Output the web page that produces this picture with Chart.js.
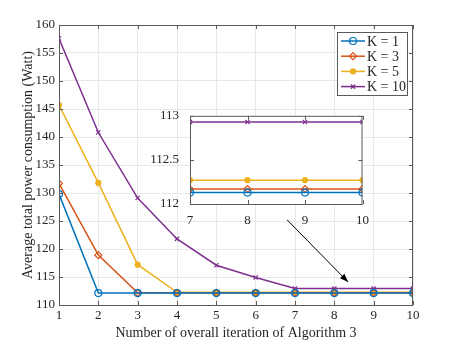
<!DOCTYPE html>
<html>
<head>
<meta charset="utf-8">
<script src="https://cdn.jsdelivr.net/npm/chart.js@4.4.0/dist/chart.umd.min.js"></script>
<style>
  body { margin: 0; background: #fff; }
  #wrap { position: relative; width: 457px; height: 343px; }
  #main { position: absolute; left: 0; top: 0; }
  #inset { position: absolute; left: 150px; top: 105px; }
</style>
</head>
<body>
<div id="wrap">
  <canvas id="main" width="457" height="343"></canvas>
  <canvas id="inset" width="220" height="128"></canvas>
</div>
<script>
var iterations = [1, 2, 3, 4, 5, 6, 7, 8, 9, 10];
var labels = ['K = 1', 'K = 3', 'K = 5', 'K = 10'];
var k1 = [129.8, 112.13, 112.13, 112.13, 112.13, 112.13, 112.13, 112.13, 112.13, 112.13];
var k3 = [131.7, 118.9, 112.17, 112.17, 112.17, 112.17, 112.17, 112.17, 112.17, 112.17];
var k5 = [145.7, 131.8, 117.2, 112.27, 112.27, 112.27, 112.27, 112.27, 112.27, 112.27];
var k10 = [157.6, 140.8, 129.1, 121.8, 117.1, 114.9, 112.93, 112.93, 112.93, 112.93];
var insetFrom = 7;
var colors = ['#0072BD', '#D95319', '#EDB120', '#7E2F8E'];
var styles = ['circle', 'rectRot', 'circle', 'crossRot'];
var radii = [3.5, 3.5, 2.5, 3];
var fills = ['rgba(0,0,0,0)', 'rgba(0,0,0,0)', '#EDB120', '#7E2F8E'];
var series = [k1, k3, k5, k10];

var FONT = 'Liberation Serif';
var INK = '#262626';

function makeSets(from) {
  return series.map(function(s, i) {
    var pts = [];
    for (var j = 0; j < iterations.length; j++) {
      if (iterations[j] >= from) pts.push({x: iterations[j], y: s[j]});
    }
    return {
      label: labels[i], data: pts,
      borderColor: colors[i], backgroundColor: fills[i],
      pointBorderColor: colors[i], pointBackgroundColor: fills[i],
      pointStyle: styles[i], pointRadius: radii[i], pointBorderWidth: 1.2,
      borderWidth: 1.5, tension: 0
    };
  });
}

// box + inward ticks like matlab
var boxPlugin = {
  id: 'box',
  afterDraw: function(chart) {
    var c = chart.ctx, a = chart.chartArea;
    c.save();
    c.strokeStyle = '#5a5a5a';
    c.lineWidth = 1;
    c.strokeRect(a.left + 0.5, a.top + 0.5, a.right - a.left - 1, a.bottom - a.top);
    var xs = chart.scales.x, ys = chart.scales.y;
    c.beginPath();
    xs.ticks.forEach(function(t) {
      var px = Math.round(xs.getPixelForValue(t.value)) + 0.5;
      c.moveTo(px, a.bottom); c.lineTo(px, a.bottom - 4);
      c.moveTo(px, a.top); c.lineTo(px, a.top + 4);
    });
    ys.ticks.forEach(function(t) {
      var py = Math.round(ys.getPixelForValue(t.value)) + 0.5;
      c.moveTo(a.left, py); c.lineTo(a.left + 4, py);
      c.moveTo(a.right, py); c.lineTo(a.right - 4, py);
    });
    c.stroke();
    c.restore();
  }
};

var extrasPlugin = {
  id: 'extras',
  afterDraw: function(chart) {
    var c = chart.ctx, xs = chart.scales.x, ys = chart.scales.y;
    // arrow
    var x0 = xs.getPixelForValue(6.8), y0 = ys.getPixelForValue(125.2);
    var x1 = xs.getPixelForValue(8.35), y1 = ys.getPixelForValue(114.1);
    c.save();
    c.strokeStyle = '#000'; c.fillStyle = '#000'; c.lineWidth = 1;
    c.beginPath(); c.moveTo(x0, y0); c.lineTo(x1, y1); c.stroke();
    var ang = Math.atan2(y1 - y0, x1 - x0);
    c.beginPath();
    c.moveTo(x1, y1);
    c.lineTo(x1 - 9 * Math.cos(ang - 0.35), y1 - 9 * Math.sin(ang - 0.35));
    c.lineTo(x1 - 9 * Math.cos(ang + 0.35), y1 - 9 * Math.sin(ang + 0.35));
    c.closePath(); c.fill();
    // legend
    var lx = 337, ly = 32, lw = 70, lh = 63;
    c.fillStyle = '#fff';
    c.fillRect(lx, ly, lw, lh);
    c.strokeStyle = '#5a5a5a';
    c.strokeRect(lx + 0.5, ly + 0.5, lw, lh);
    c.font = '14px "' + FONT + '"';
    c.textBaseline = 'middle';
    chart.data.datasets.forEach(function(ds, i) {
      var yy = ly + 9 + i * 15.2;
      c.strokeStyle = colors[i]; c.lineWidth = 1.5;
      c.beginPath(); c.moveTo(lx + 4, yy); c.lineTo(lx + 28, yy); c.stroke();
      c.lineWidth = 1.2;
      c.fillStyle = fills[i];
      Chart.helpers.drawPoint(c, {pointStyle: styles[i], radius: radii[i], borderWidth: 1.2}, lx + 16, yy);
      c.fillStyle = INK;
      c.fillText(labels[i], lx + 30, yy + 1);
    });
    c.restore();
  }
};

new Chart(document.getElementById('main'), {
  type: 'line',
  data: { datasets: makeSets(1) },
  options: {
    responsive: false, animation: false,
    layout: { padding: { top: 25, right: 44, left: 0, bottom: 0 } },
    plugins: { legend: { display: false }, tooltip: { enabled: false } },
    scales: {
      x: {
        type: 'linear', min: 1, max: 10,
        ticks: { stepSize: 1, color: INK, font: { family: FONT, size: 13 }, padding: 3, maxRotation: 0 },
        grid: { color: '#e8e8e8', drawTicks: false },
        border: { display: false },
        title: { display: true, text: 'Number of overall iteration of Algorithm 3', color: INK,
                 font: { family: FONT, size: 14 }, padding: { top: 0, bottom: 1 } },
        afterFit: function(s) { s.height = 38; }
      },
      y: {
        min: 110, max: 160,
        ticks: { stepSize: 5, color: INK, font: { family: FONT, size: 13 }, padding: 4 },
        grid: { color: '#e8e8e8', drawTicks: false },
        border: { display: false },
        title: { display: true, text: 'Average total power consumption (Watt)', color: INK,
                 font: { family: FONT, size: 14 }, padding: { top: 20, bottom: 0 } },
        afterFit: function(s) { s.width = 59; }
      }
    }
  },
  plugins: [boxPlugin, extrasPlugin]
});

var whitePlugin = {
  id: 'white',
  beforeDraw: function(chart) {
    var a = chart.chartArea;
    chart.ctx.save();
    chart.ctx.fillStyle = '#fff';
    chart.ctx.fillRect(a.left, a.top, a.right - a.left, a.bottom - a.top);
    chart.ctx.restore();
  }
};

new Chart(document.getElementById('inset'), {
  type: 'line',
  data: { datasets: makeSets(insetFrom) },
  options: {
    responsive: false, animation: false,
    layout: { padding: { top: 9, right: 2, left: 0, bottom: 0 } },
    plugins: { legend: { display: false }, tooltip: { enabled: false } },
    scales: {
      x: {
        type: 'linear', min: 7, max: 10,
        ticks: { stepSize: 1, color: INK, font: { family: FONT, size: 13 }, padding: 1, maxRotation: 0 },
        grid: { display: false },
        border: { display: false },
        afterFit: function(s) { s.height = 29; }
      },
      y: {
        min: 112, max: 113,
        ticks: { stepSize: 0.5, color: INK, font: { family: FONT, size: 13 }, padding: 3,
                 callback: function(v) { return String(v); } },
        grid: { display: false },
        border: { display: false },
        afterFit: function(s) { s.width = 40; }
      }
    }
  },
  plugins: [whitePlugin, boxPlugin]
});
</script>
</body>
</html>
